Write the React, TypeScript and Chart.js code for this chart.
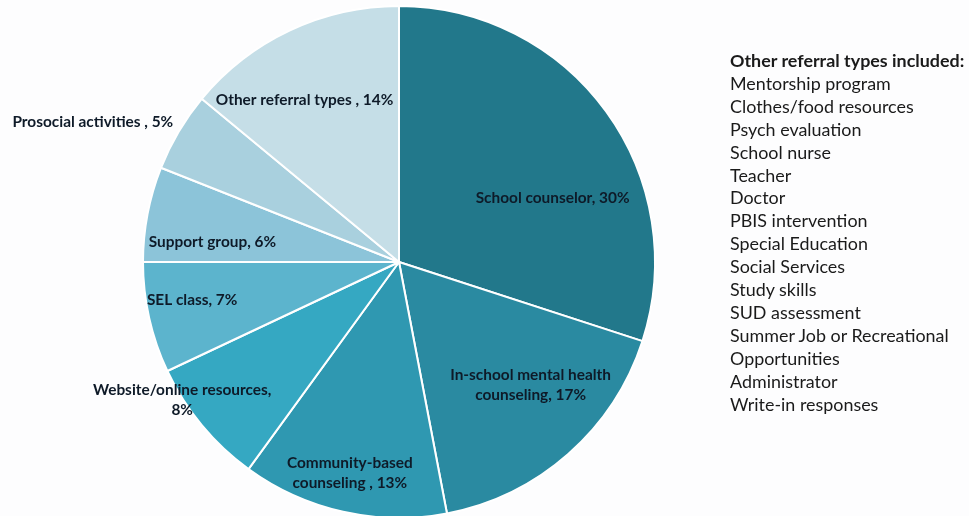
import React, { useEffect, useRef } from "react";
import { Chart, registerables } from "chart.js";

Chart.register(...registerables);

const categories = [
  "School counselor",
  "In-school mental health counseling",
  "Community-based counseling",
  "Website/online resources",
  "SEL class",
  "Support group",
  "Prosocial activities",
  "Other referral types",
];
const percents = [30, 17, 13, 8, 7, 6, 5, 14];
const sliceLabels = [
  ["School counselor, 30%"],
  ["In-school mental health", "counseling, 17%"],
  ["Community-based", "counseling , 13%"],
  ["Website/online resources,", "8%"],
  ["SEL class, 7%"],
  ["Support group, 6%"],
  ["Prosocial activities , 5%"],
  ["Other referral types , 14%"],
];
const otherTypes = [
  "Mentorship program",
  "Clothes/food resources",
  "Psych evaluation",
  "School nurse",
  "Teacher",
  "Doctor",
  "PBIS intervention",
  "Special Education",
  "Social Services",
  "Study skills",
  "SUD assessment",
  "Summer Job or Recreational",
  "Opportunities",
  "Administrator",
  "Write-in responses",
];

const colors = ["#22788b", "#2a8aa1", "#2f98b1", "#35a8c2", "#5cb4cd", "#8cc4d9", "#a9d0de", "#c5dee7"];
// label anchor in units of the pie radius, relative to the pie centre
const labelAnchors = [
  [0.6, -0.25],
  [0.514, 0.482],
  [-0.192, 0.824],
  [-0.847, 0.541],
  [-0.808, 0.149],
  [-0.729, -0.078],
  [-1.196, -0.545],
  [-0.369, -0.631],
];

const FONT = "Lato, 'Open Sans', sans-serif";

const labelPlugin = {
  id: "sliceLabels",
  afterDatasetsDraw(chart: any) {
    const meta = chart.getDatasetMeta(0);
    const ctx = chart.ctx;
    ctx.save();
    ctx.fillStyle = "#0e1a28";
    ctx.font = `bold 15.4px ${FONT}`;
    ctx.textAlign = "center";
    ctx.textBaseline = "middle";
    meta.data.forEach((arc: any, i: number) => {
      const { x, y, outerRadius } = arc.getProps(["x", "y", "outerRadius"], true);
      const [fx, fy] = labelAnchors[i];
      const cx = x + fx * outerRadius;
      const cy = y + fy * outerRadius;
      const lines = sliceLabels[i];
      const lh = 20;
      lines.forEach((l, j) => {
        ctx.fillText(l, cx, cy + (j - (lines.length - 1) / 2) * lh);
      });
    });
    ctx.restore();
  },
};

export default function App() {
  const ref = useRef<HTMLCanvasElement>(null);
  useEffect(() => {
    document.body.style.margin = "0";
    const chart = new Chart(ref.current!, {
      type: "pie",
      data: {
        labels: categories,
        datasets: [
          {
            data: percents,
            backgroundColor: colors,
            borderColor: "#ffffff",
            borderWidth: 2,
            clip: false as any,
          },
        ],
      },
      options: {
        animation: false,
        responsive: false,
        radius: 256,
        layout: { padding: { left: 0, right: 171, top: 8, bottom: 0 } },
        plugins: { legend: { display: false }, tooltip: { enabled: false } },
      } as any,
      plugins: [labelPlugin],
    });
    return () => chart.destroy();
  }, []);
  return (
    <div style={{ position: "relative", width: 969, height: 516, background: "#fdfdfe", overflow: "hidden" }}>
      <canvas ref={ref} width={969} height={516} style={{ position: "absolute", left: 0, top: 0 }} />
      <div
        style={{
          position: "absolute",
          left: 730,
          top: 49,
          fontFamily: FONT,
          fontSize: 17.9,
          lineHeight: "22.9px",
          color: "#1a1a1a",
          whiteSpace: "nowrap",
        }}
      >
        <div style={{ fontWeight: "bold" }}>Other referral types included:</div>
        {otherTypes.map((t) => (
          <div key={t}>{t}</div>
        ))}
      </div>
    </div>
  );
}
